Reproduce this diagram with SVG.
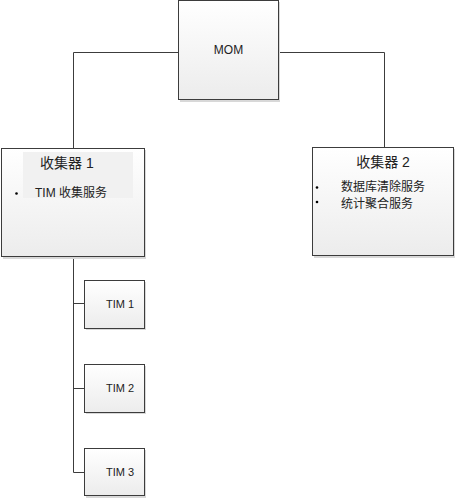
<svg xmlns="http://www.w3.org/2000/svg" width="459" height="499" viewBox="0 0 459 499">
<defs>
<linearGradient id="g" x1="0" y1="0" x2="0" y2="1">
<stop offset="0" stop-color="#ffffff"/>
<stop offset="1" stop-color="#ececec"/>
</linearGradient>
</defs>
<style>
.box{fill:url(#g);stroke:#3c3c3c;stroke-width:1}
.sh{fill:#d8d8d8}
.c{fill:none;stroke:#3c3c3c;stroke-width:1}
text{font-family:"Liberation Sans","Noto Sans CJK SC",sans-serif;fill:#222}
.t{font-size:12px}
.s{font-size:11px}
.cn{font-size:14px}
</style>
<rect width="459" height="499" fill="#fff"/>
<g id="connectors">
<path class="c" d="M73.5 148 V52.5 H178 M278 52.5 H384.5 V147"/>
<path class="c" d="M73.5 257 V472.5 H84 M73.5 303.5 H84 M73.5 388.5 H84"/>
</g>
<g id="mom">
<rect class="sh" x="180" y="2" width="100" height="100"/>
<rect class="box" x="178.5" y="0.5" width="100" height="99"/>
<text class="t" x="228.5" y="54" text-anchor="middle">MOM</text>
</g>
<g id="collector1">
<rect class="sh" x="3" y="150" width="143" height="109"/>
<rect class="box" x="1.5" y="148.5" width="143" height="108"/>
<rect x="23" y="152" width="110" height="46" fill="#f1f1f1"/>
<text class="cn" x="40" y="168">收集器 1</text>
<circle cx="16.5" cy="193.5" r="1.3" fill="#000"/>
<text class="t" x="35" y="197">TIM 收集服务</text>
</g>
<g id="collector2">
<rect class="sh" x="314" y="149" width="141" height="109"/>
<rect class="box" x="312.5" y="147.5" width="141" height="108"/>
<text class="cn" x="383" y="167" text-anchor="middle">收集器 2</text>
<circle cx="317" cy="187.5" r="1.3" fill="#000"/>
<circle cx="317" cy="202" r="1.3" fill="#000"/>
<text class="t" x="341" y="191">数据库清除服务</text>
<text class="t" x="341" y="208">统计聚合服务</text>
</g>
<g id="tim1">
<rect class="sh" x="86" y="282" width="60" height="48"/>
<rect class="box" x="84.5" y="280.5" width="60" height="48"/>
<text class="s" x="120" y="308" text-anchor="middle">TIM 1</text>
</g>
<g id="tim2">
<rect class="sh" x="86" y="366" width="60" height="48"/>
<rect class="box" x="84.5" y="364.5" width="60" height="48"/>
<text class="s" x="120" y="392" text-anchor="middle">TIM 2</text>
</g>
<g id="tim3">
<rect class="sh" x="86" y="450" width="60" height="48"/>
<rect class="box" x="84.5" y="448.5" width="60" height="47"/>
<text class="s" x="120" y="476" text-anchor="middle">TIM 3</text>
</g>
</svg>
